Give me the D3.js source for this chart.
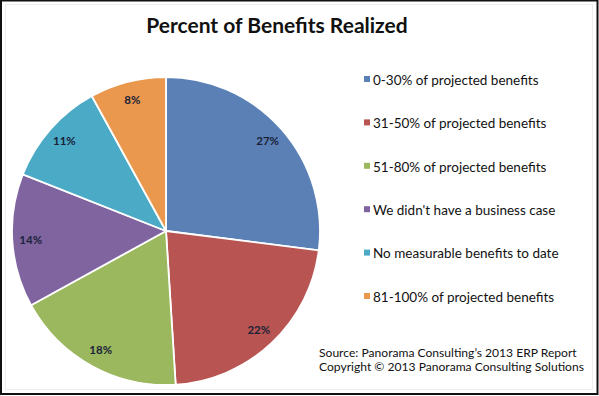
<!DOCTYPE html>
<html><head><meta charset="utf-8">
<script src="https://cdn.jsdelivr.net/npm/d3@7"></script>
<style>html,body{margin:0;padding:0;background:#fff;}svg{display:block;}</style>
</head><body>
<script>
const categories = ["0-30% of projected benefits","31-50% of projected benefits","51-80% of projected benefits","We didn't have a business case","No measurable benefits to date","81-100% of projected benefits"];
const values = [27,22,18,14,11,8];
const colors = ["#5b80b6","#b85451","#9bb85e","#8064a0","#4baac5","#e9984d"];
const title = "Percent of Benefits Realized";
const sourceLines = ["Source: Panorama Consulting\u2019s 2013 ERP Report","Copyright \u00a9 2013 Panorama Consulting Solutions"];

const W=599,H=396;
const svg=d3.select("body").append("svg").attr("width",W).attr("height",H);
svg.append("rect").attr("x",0).attr("y",0).attr("width",W).attr("height",H).attr("fill","#fff");
svg.append("rect").attr("x",1).attr("y",0.5).attr("width",W-2.5).attr("height",H-2.5)
  .attr("fill","none").attr("stroke","#111").attr("stroke-width",2);
svg.append("rect").attr("x",5.5).attr("y",4.5).attr("width",W-12).attr("height",H-11)
  .attr("fill","none").attr("stroke","#eee").attr("stroke-width",1);

svg.append("text").attr("x",277).attr("y",33).attr("text-anchor","middle")
  .attr("font-family","Lato, 'Open Sans', sans-serif").attr("font-weight","bold")
  .attr("font-size",21).attr("fill","#111").text(title);

const cx=166,cy=231,R=154;
const pie=d3.pie().sort(null).value(d=>d)(values);
const arc=d3.arc().innerRadius(0).outerRadius(R);
const labelArc=d3.arc().innerRadius(R*0.88).outerRadius(R*0.88);
const g=svg.append("g").attr("transform",`translate(${cx},${cy})`);
g.selectAll("path").data(pie).join("path").attr("d",arc)
  .attr("fill",(d,i)=>colors[i]).attr("stroke","#fff").attr("stroke-width",1.8).attr("stroke-linejoin","round");
g.selectAll("text").data(pie).join("text")
  .attr("transform",d=>`translate(${labelArc.centroid(d)})`)
  .attr("text-anchor","middle").attr("dy","0.35em")
  .attr("font-family","Lato, 'Open Sans', sans-serif").attr("font-size",11.5).attr("font-weight","bold")
  .attr("fill","#1a2238").text(d=>d.data+"%");

const ly=d3.scalePoint().domain(categories).range([80,297]);
const lg=svg.append("g");
categories.forEach((c,i)=>{
  lg.append("rect").attr("x",364).attr("y",ly(c)-4).attr("width",6).attr("height",6).attr("fill",colors[i]);
  lg.append("text").attr("x",373).attr("y",ly(c)).attr("dy","0.35em")
    .attr("font-family","Lato, 'Open Sans', sans-serif").attr("font-size",13.5).attr("fill","#111").text(c);
});
sourceLines.forEach((s,i)=>{
  svg.append("text").attr("x",319).attr("y",357+i*14)
    .attr("font-family","Lato, 'Open Sans', sans-serif").attr("font-size",12.1).attr("fill","#111").text(s);
});
</script>
</body></html>
